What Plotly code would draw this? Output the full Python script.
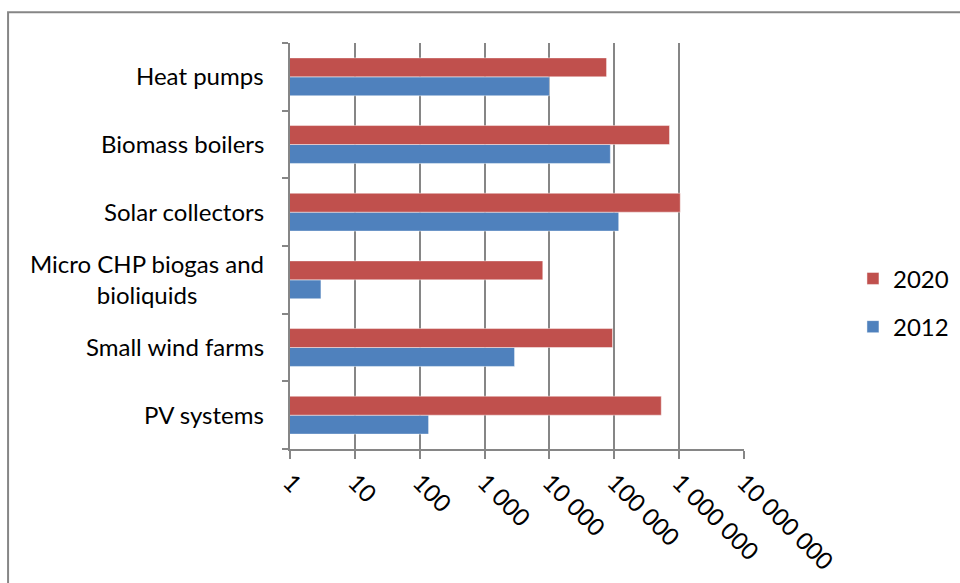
import plotly.graph_objects as go

# Installations by technology (log scale), bottom to top
categories = [
    "PV systems",
    "Small wind farms",
    "Micro CHP biogas and<br>bioliquids",
    "Solar collectors",
    "Biomass boilers",
    "Heat pumps",
]
values_2012 = [137, 2900, 3, 117000, 87000, 10000]
values_2020 = [530000, 94000, 7900, 1040000, 710000, 76000]

tick_values = [1, 10, 100, 1000, 10000, 100000, 1000000, 10000000]
tick_labels = ["1", "10", "100", "1 000", "10 000", "100 000", "1 000 000", "10 000 000"]

RED = "#C0504D"
BLUE = "#4F81BD"
GRID = "#868686"
FONT = "Lato"

fig = go.Figure()
fig.add_trace(go.Bar(
    name="2012", y=categories, x=values_2012, orientation="h",
    marker=dict(color=BLUE, line=dict(color="rgba(255,255,255,0.45)", width=1)),
    legendgroup="g2012", legendrank=2,
))
fig.add_trace(go.Bar(
    name="2020", y=categories, x=values_2020, orientation="h",
    marker=dict(color=RED, line=dict(color="rgba(255,255,255,0.45)", width=1)),
    legendgroup="g2020", legendrank=1,
))

# Category labels, centred line by line
for cat in categories:
    fig.add_annotation(
        x=0, xref="paper", y=cat, yref="y",
        text=cat, showarrow=False, xanchor="right", align="center",
        xshift=-24, yshift=1, font=dict(family=FONT, size=24, color="#000000"),
    )

# Chart frame
fig.add_shape(
    type="rect", xref="paper", yref="paper",
    x0=-0.621, x1=1.75, y0=-0.5, y1=1.076,
    line=dict(color=GRID, width=2), fillcolor="rgba(0,0,0,0)", layer="below",
)

fig.update_layout(
    width=960, height=583,
    margin=dict(l=290, r=216, t=43, b=134, autoexpand=False),
    paper_bgcolor="white", plot_bgcolor="white",
    barmode="group", bargap=0.44, bargroupgap=0,
    font=dict(family=FONT, size=24, color="#000000"),
    legend=dict(
        x=1.24, xanchor="left", y=0.36, yanchor="middle",
        traceorder="grouped", tracegroupgap=14,
        font=dict(family=FONT, size=24), itemwidth=30,
        bgcolor="rgba(0,0,0,0)",
    ),
    xaxis=dict(
        type="log", range=[0, 7], automargin=False,
        tickvals=tick_values, ticktext=tick_labels, tickangle=45,
        showgrid=True, gridcolor=GRID, gridwidth=2,
        showline=True, linecolor=GRID, linewidth=2,
        ticks="outside", ticklen=8, tickwidth=2, tickcolor=GRID,
        zeroline=False, tickfont=dict(family=FONT, size=24),
    ),
    yaxis=dict(
        type="category", categoryorder="array", categoryarray=categories,
        showticklabels=False, showgrid=False, automargin=False,
        showline=True, linecolor=GRID, linewidth=2,
        ticks="outside", ticklen=6, tickwidth=2, tickcolor=GRID,
        tickson="boundaries", zeroline=False,
    ),
)

fig.write_html("out.html")
